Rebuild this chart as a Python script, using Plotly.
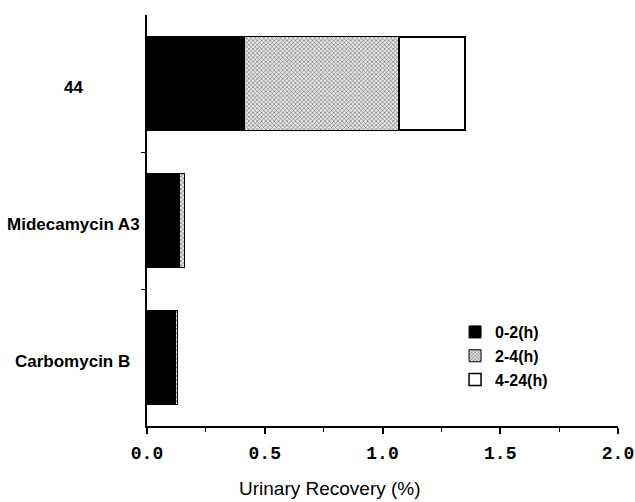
import plotly.graph_objects as go

categories = ["Carbomycin B", "Midecamycin A3", "44"]
series_names = ["0-2(h)", "2-4(h)", "4-24(h)"]
v_0_2 = [0.12, 0.14, 0.415]
v_2_4 = [0.01, 0.02, 0.655]
v_4_24 = [0.0, 0.0, 0.28]
x_ticks = [0.0, 0.5, 1.0, 1.5, 2.0]
x_minor_ticks = [0.25, 0.75, 1.25, 1.75]
x_ticklabels = ["0.0", "0.5", "1.0", "1.5", "2.0"]
x_title = "Urinary Recovery (%)"

fig = go.Figure()
fig.add_trace(go.Bar(y=categories, x=v_0_2, orientation="h", name=series_names[0], legendgroup="a",
                     marker=dict(color="black", line=dict(color="black", width=1))))
fig.add_trace(go.Bar(y=categories, x=v_2_4, orientation="h", name=series_names[1], legendgroup="b",
                     marker=dict(color="white", line=dict(color="black", width=1),
                                 pattern=dict(shape="x", fgcolor="#555555", bgcolor="#e6e6e6",
                                              size=3, solidity=0.3, fillmode="replace"))))
fig.add_trace(go.Bar(y=categories, x=v_4_24, orientation="h", name=series_names[2], legendgroup="c",
                     marker=dict(color="white", line=dict(color="black", width=1.5))))

label_x = [-0.032, -0.011, -0.132]
for i, c in enumerate(categories):
    fig.add_annotation(x=label_x[i], xref="paper", xanchor="right", y=i, yref="y",
                       yshift=-4, text=c, showarrow=False,
                       font=dict(family="Arial, Liberation Sans", size=17, color="black", weight="bold"))

fig.add_annotation(x=0.389, xref="paper", xanchor="center", y=-0.151, yref="paper",
                   yanchor="middle", text=x_title, showarrow=False,
                   font=dict(family="Arial, Liberation Sans", size=19, color="black"))

fig.update_layout(
    width=635, height=502,
    margin=dict(l=147, r=17, t=15, b=76),
    barmode="stack", bargap=0.32,
    plot_bgcolor="white", paper_bgcolor="white",
    showlegend=True,
    legend=dict(x=0.654, y=0.27, xanchor="left", yanchor="top",
                font=dict(family="Arial, Liberation Sans", size=16, color="black", weight="bold"),
                bgcolor="rgba(0,0,0,0)", traceorder="normal", itemwidth=30, tracegroupgap=5),
    xaxis=dict(range=[0, 2.0], tickvals=x_ticks, ticktext=x_ticklabels, automargin=False,
               showgrid=False, zeroline=False, showline=True, linecolor="black", linewidth=1.5,
               ticks="outside", ticklen=6, tickcolor="black", tickwidth=1.5,
               ticklabelstandoff=4,
               minor=dict(tickvals=x_minor_ticks, ticks="outside", ticklen=4,
                          tickcolor="black", tickwidth=1),
               tickfont=dict(family="Liberation Mono, Courier New", size=18, color="black", weight="bold")),
    yaxis=dict(type="category", range=[-0.5, 2.5], showticklabels=False, showgrid=False, zeroline=False,
               showline=True, linecolor="black", linewidth=1.5, automargin=False,
               tickvals=[0.5, 1.5], ticks="outside", ticklen=4, tickcolor="black"),
)

fig.write_html("out.html")
